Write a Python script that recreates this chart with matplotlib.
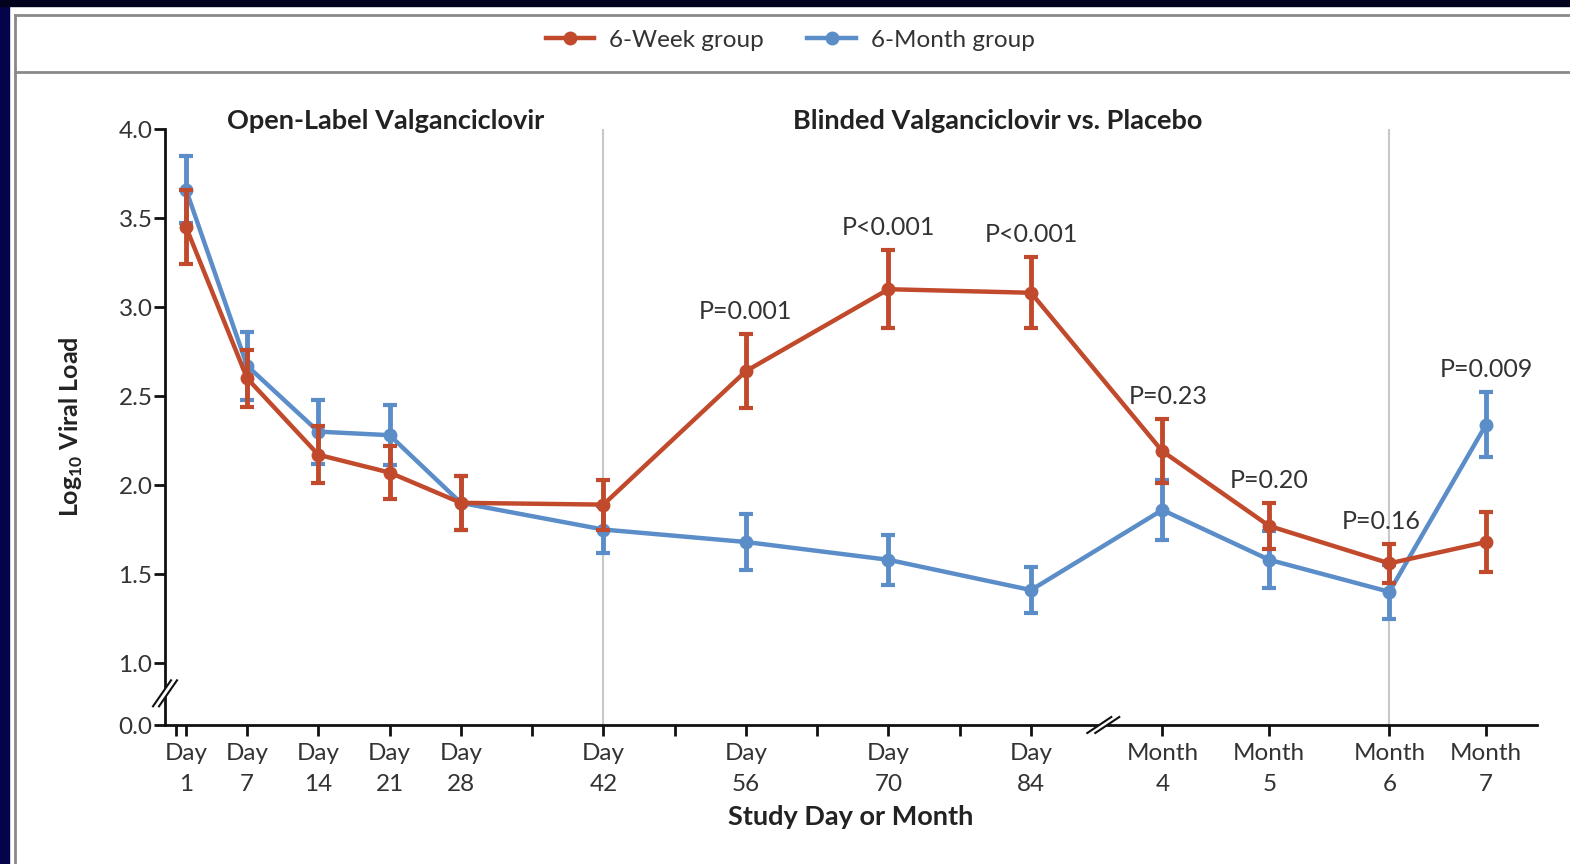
import numpy as np
import matplotlib
matplotlib.use("Agg")
import matplotlib.pyplot as plt
from matplotlib.lines import Line2D
from matplotlib.patches import Rectangle, Polygon
from matplotlib.transforms import IdentityTransform

plt.rcParams['font.family'] = ['Lato', 'DejaVu Sans']
plt.rcParams['mathtext.fontset'] = 'custom'
plt.rcParams['mathtext.rm'] = 'Lato'
plt.rcParams['mathtext.bf'] = 'Lato:bold'

# study visits and their place on the (broken) time axis
visit_labels = ['Day\n1', 'Day\n7', 'Day\n14', 'Day\n21', 'Day\n28', 'Day\n42', 'Day\n56',
                'Day\n70', 'Day\n84', 'Month\n4', 'Month\n5', 'Month\n6', 'Month\n7']
visit_pos = [1, 7, 14, 21, 28, 42, 56, 70, 84, 96.9, 107.4, 119.2, 128.7]
minor_pos = [0, 35, 49, 63, 77]

# mean log10 viral load and error half-widths
week6_mean = [3.45, 2.60, 2.17, 2.07, 1.90, 1.89, 2.64, 3.10, 3.08, 2.19, 1.77, 1.56, 1.68]
week6_err = [0.21, 0.16, 0.16, 0.15, 0.15, 0.14, 0.21, 0.22, 0.20, 0.18, 0.13, 0.11, 0.17]
month6_mean = [3.66, 2.67, 2.30, 2.28, 1.90, 1.75, 1.68, 1.58, 1.41, 1.86, 1.58, 1.40, 2.34]
month6_err = [0.19, 0.19, 0.18, 0.17, 0.15, 0.13, 0.16, 0.14, 0.13, 0.17, 0.16, 0.15, 0.18]

# P values shown above selected visits
p_idx = [6, 7, 8, 9, 10, 11, 12]
p_text = ['P=0.001', 'P<0.001', 'P<0.001', 'P=0.23', 'P=0.20', 'P=0.16', 'P=0.009']
p_dx = [0, 0, 0, 4, 0, -6, 0]

ytick_vals = [0.652, 1.0, 1.5, 2.0, 2.5, 3.0, 3.5, 4.0]
ytick_labels = ['0.0', '1.0', '1.5', '2.0', '2.5', '3.0', '3.5', '4.0']

RED = '#c24a2c'
BLUE = '#5b8dc9'
TXT = '#333333'

W, H = 1570, 864
fig = plt.figure(figsize=(W / 100, H / 100), dpi=100, facecolor='white')

# frame around the panel
fig.patches.append(Rectangle((0, 0), 9 / W, 1, transform=fig.transFigure, color='#04044a', zorder=0))
fig.patches.append(Rectangle((0, 1 - 6 / H), 1, 6 / H, transform=fig.transFigure, color='#02021e', zorder=0))
for yy in (15, 72):
    fig.lines.append(Line2D([15 / W, 1], [1 - yy / H] * 2, transform=fig.transFigure, color='#8a8a8a', lw=2))
fig.lines.append(Line2D([15 / W, 15 / W], [0, 1 - 15 / H], transform=fig.transFigure, color='#8a8a8a', lw=2))

ax = fig.add_axes([165 / W, 139 / H, (1537 - 165) / W, (725 - 129) / H])
ax.set_xlim(-1.06, 133.7)
ax.set_ylim(0.652, 4.0)
for s in ('top', 'right'):
    ax.spines[s].set_visible(False)
for s in ('left', 'bottom'):
    ax.spines[s].set_linewidth(2)
    ax.spines[s].set_color('#111111')

ax.set_yticks(ytick_vals)
ax.set_yticklabels(ytick_labels)
ax.set_xticks(visit_pos)
ax.set_xticklabels(visit_labels, linespacing=1.6)
ax.set_xticks(minor_pos, minor=True)
ax.tick_params(axis='both', which='both', direction='out', length=8, width=2, color='#111111',
               labelsize=17.5, labelcolor=TXT)
ax.tick_params(axis='y', pad=1)
ax.tick_params(axis='x', pad=5)

# phase dividers
for xv in (visit_pos[5], visit_pos[11]):
    ax.axvline(xv, ymin=0, ymax=1, color='#c8c8c8', lw=1.5, zorder=1)

ax.errorbar(visit_pos, month6_mean, yerr=month6_err, color=BLUE, lw=3.2, marker='o', ms=9,
            elinewidth=3.5, capsize=5, capthick=3, zorder=3)
ax.errorbar(visit_pos, week6_mean, yerr=week6_err, color=RED, lw=3.2, marker='o', ms=9,
            elinewidth=3.5, capsize=5, capthick=3, zorder=4)

for i, t, dx in zip(p_idx, p_text, p_dx):
    top = max(week6_mean[i] + week6_err[i], month6_mean[i] + month6_err[i])
    ax.annotate(t, (visit_pos[i], top), xytext=(dx, 8), textcoords='offset points',
                ha='center', va='bottom', fontsize=18, color=TXT)

ax.text(20.6, 4.045, 'Open-Label Valganciclovir', ha='center', va='center', fontsize=19.5,
        fontweight='bold', color='#222222')
ax.text(80.7, 4.045, 'Blinded Valganciclovir vs. Placebo', ha='center', va='center', fontsize=19.5,
        fontweight='bold', color='#222222')

ax.set_xlabel('Study Day or Month', fontsize=19.5, fontweight='bold', color='#222222', labelpad=7)
ax.set_ylabel(r'Log$_{\mathbf{10}}$ Viral Load', fontsize=18, fontweight='bold', color='#222222',
              labelpad=24)


def axis_break(x, y, dx, dy, sep):
    # two short slashes over a spine, with the spine cut between them
    px, py = ax.transData.transform((x, y))
    gap = Polygon([(px - dx - sep, py - dy), (px - dx + sep, py - dy),
                   (px + dx + sep, py + dy), (px + dx - sep, py + dy)],
                  closed=True, transform=IdentityTransform(), facecolor='white',
                  edgecolor='none', zorder=10, clip_on=False)
    fig.patches.append(gap)
    for o in (-sep, sep):
        fig.lines.append(Line2D([px - dx + o, px + dx + o], [py - dy, py + dy],
                                transform=IdentityTransform(), color='#111111', lw=1.5, zorder=11))


fig.canvas.draw()
axis_break(ax.get_xlim()[0], 0.83, 9, 13, 3)
axis_break(91.1, ax.get_ylim()[0], 12, 8, 4)

handles = [Line2D([], [], color=RED, lw=3.2, marker='o', ms=9),
           Line2D([], [], color=BLUE, lw=3.2, marker='o', ms=9)]
fig.legend(handles, ['6-Week group', '6-Month group'], loc='center', bbox_to_anchor=(790 / W, 1 - 40 / H),
           ncol=2, frameon=False, fontsize=17.5, handlelength=2.0, handletextpad=0.6,
           columnspacing=1.8, labelcolor=TXT)

fig.savefig('out.png', dpi=100, facecolor='white')
